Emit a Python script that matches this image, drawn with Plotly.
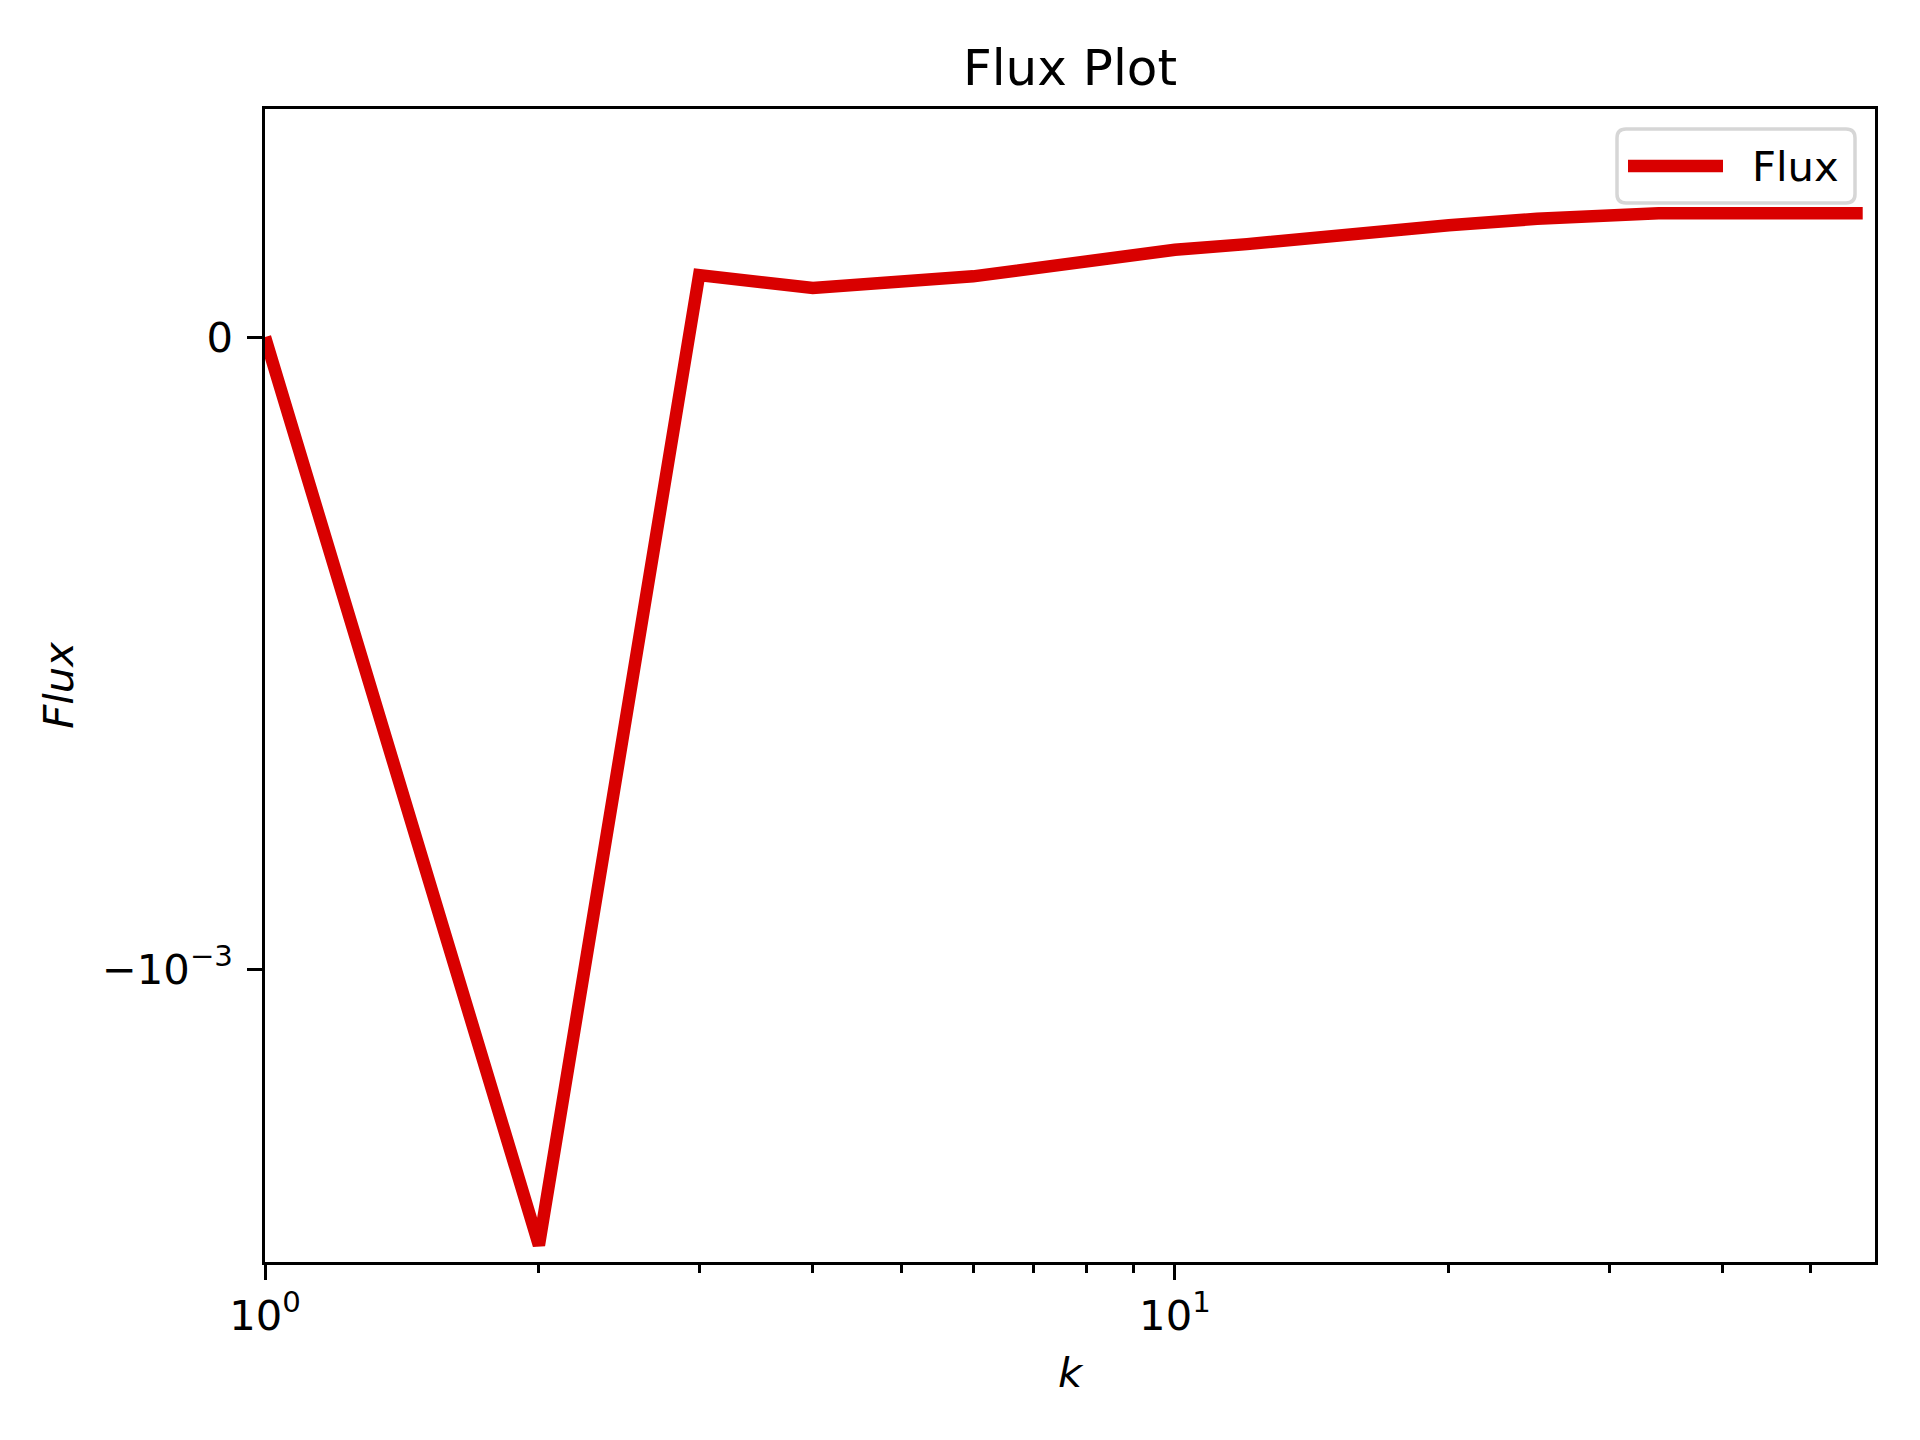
import math
import plotly.graph_objects as go

# ---- data ----
k_values = [1, 2, 3, 4, 6, 8, 10, 12, 14, 16, 20, 25, 30, 34, 40, 50, 57]
flux_values = [0.0, -1.437e-3, 0.098e-3, 0.0775e-3, 0.096e-3, 0.120e-3, 0.138e-3,
               0.147e-3, 0.157e-3, 0.166e-3, 0.177e-3, 0.187e-3, 0.193e-3,
               0.196e-3, 0.196e-3, 0.196e-3, 0.196e-3]
x_major_ticks = [1, 10]
x_major_labels = ["10<sup>0</sup>", "10<sup>1</sup>"]
x_minor_ticks = [2, 3, 4, 5, 6, 7, 8, 9, 20, 30, 40, 50]
y_ticks = [0, -1e-3]
y_labels = ["0", "\u221210<sup>\u22123</sup>"]
series_name = "Flux"

# ---- layout geometry (pixels, page has an 8px body margin) ----
W, H = 1920, 1440
OFF = 8
L, T = 265 - OFF, 109 - OFF
PW, PH = 1610, 1153
R, B = W - L - PW, H - T - PH
FONT = "DejaVu Sans"
FS = 41.7
RED = "#d90000"


def px(xp):
    return (xp - OFF - L) / PW


def py(yp):
    return (T + PH - (yp - OFF)) / PH


fig = go.Figure()
fig.add_trace(go.Scatter(
    x=k_values, y=flux_values, mode="lines", name=series_name,
    line=dict(color=RED, width=12.5), showlegend=False,
))

fig.update_layout(
    width=W, height=H,
    margin=dict(l=L, r=R, t=T, b=B, autoexpand=False),
    paper_bgcolor="white", plot_bgcolor="white",
    font=dict(family=FONT, size=FS, color="black"),
    title=dict(text="Flux Plot", x=0.5, xref="paper", xanchor="center",
               y=1 - (67 - OFF) / H, yref="container", yanchor="middle",
               font=dict(family=FONT, size=50, color="black")),
    showlegend=False,
)

fig.update_xaxes(
    type="log", range=[0, math.log10(58.8)],
    showline=True, linecolor="black", linewidth=3.3, mirror=True,
    showgrid=False, zeroline=False,
    ticks="outside", ticklen=14.6, tickwidth=3.3, tickcolor="black",
    tickmode="array", tickvals=x_major_ticks, ticktext=x_major_labels,
    tickfont=dict(family=FONT, size=FS, color="black"),
    minor=dict(tickmode="array", tickvals=x_minor_ticks, ticks="outside",
               ticklen=8.3, tickwidth=2.5, tickcolor="black", showgrid=False),
    title=dict(text="<i>k</i>", standoff=20,
               font=dict(family=FONT, size=FS, color="black")),
    automargin=False,
)

fig.update_yaxes(
    range=[-1.4636e-3, 0.3608e-3],
    showline=True, linecolor="black", linewidth=3.3, mirror=True,
    showgrid=False, zeroline=False,
    ticks="outside", ticklen=14.6, tickwidth=3.3, tickcolor="black",
    tickmode="array", tickvals=y_ticks, ticktext=y_labels,
    ticklabelstandoff=6,
    tickfont=dict(family=FONT, size=FS, color="black"),
    title=dict(text="<i>Flux</i>", standoff=16,
               font=dict(family=FONT, size=FS, color="black")),
    automargin=False,
)

# ---- legend drawn like matplotlib's (frame, long handle, label) ----
x0, x1, y0, y1 = 1617, 1855, 129, 203
r = 9
path = (
    f"M {px(x0 + r)},{py(y0)} L {px(x1 - r)},{py(y0)} "
    f"Q {px(x1)},{py(y0)} {px(x1)},{py(y0 + r)} "
    f"L {px(x1)},{py(y1 - r)} Q {px(x1)},{py(y1)} {px(x1 - r)},{py(y1)} "
    f"L {px(x0 + r)},{py(y1)} Q {px(x0)},{py(y1)} {px(x0)},{py(y1 - r)} "
    f"L {px(x0)},{py(y0 + r)} Q {px(x0)},{py(y0)} {px(x0 + r)},{py(y0)} Z"
)
fig.add_shape(type="path", path=path, xref="paper", yref="paper",
              line=dict(color="#d6d6d6", width=3.5),
              fillcolor="rgba(255,255,255,0.8)", layer="above")
fig.add_shape(type="line", xref="paper", yref="paper",
              x0=px(1628), x1=px(1723), y0=py(166), y1=py(166),
              line=dict(color=RED, width=12.5), layer="above")
fig.add_annotation(text=series_name, xref="paper", yref="paper",
                   x=px(1750), y=py(166), xanchor="left", yanchor="middle",
                   showarrow=False, font=dict(family=FONT, size=FS, color="black"))

fig.write_html("out.html")
